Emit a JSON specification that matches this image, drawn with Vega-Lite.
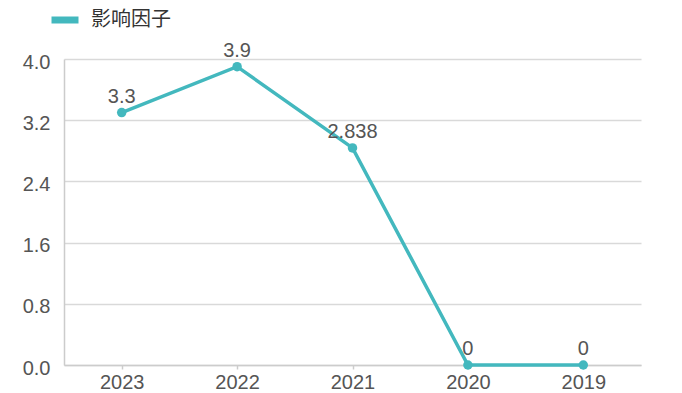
{
  "$schema": "https://vega.github.io/schema/vega-lite/v6.json",
  "width": 577,
  "height": 306,
  "autosize": {"type": "none"},
  "padding": {"left": 64, "top": 59, "right": 41, "bottom": 28},
  "background": "white",
  "config": {
    "view": {"stroke": null},
    "font": "Liberation Sans"
  },
  "data": {
    "values": [
      {"year": "2023", "value": 3.3, "label": "3.3", "series": "影响因子"},
      {"year": "2022", "value": 3.9, "label": "3.9", "series": "影响因子"},
      {"year": "2021", "value": 2.838, "label": "2.838", "series": "影响因子"},
      {"year": "2020", "value": 0, "label": "0", "series": "影响因子"},
      {"year": "2019", "value": 0, "label": "0", "series": "影响因子"}
    ]
  },
  "encoding": {
    "x": {
      "field": "year", "type": "ordinal", "sort": null, "title": null,
      "scale": {"paddingInner": 0, "paddingOuter": 0},
      "axis": {"labelAngle": 0, "ticks": true, "tickSize": 4, "tickColor": "#ccc", "tickWidth": 1.5, "labelFontSize": 20, "labelColor": "#555", "labelPadding": 3, "domainColor": "#ccc", "domainWidth": 1.5}
    },
    "y": {
      "field": "value", "type": "quantitative", "title": null,
      "scale": {"domain": [0, 4], "nice": false},
      "axis": {"values": [0, 0.8, 1.6, 2.4, 3.2, 4.0], "format": ".1f", "ticks": false, "labelFontSize": 20, "labelColor": "#555", "labelPadding": 14, "labelBaseline": "middle", "labelOffset": 3, "gridColor": "#d9d9d9", "gridWidth": 1.5, "domain": true, "domainColor": "#ccc", "domainWidth": 1.5}
    }
  },
  "layer": [
    {
      "mark": {"type": "line", "strokeWidth": 3.5},
      "encoding": {
        "color": {
          "field": "series", "type": "nominal",
          "scale": {"range": ["#43b8be"]},
          "legend": {
            "title": null, "orient": "none", "legendX": -16, "legendY": -56,
            "symbolType": "stroke", "symbolStrokeWidth": 7, "symbolSize": 729,
            "labelFontSize": 20, "labelColor": "#333", "labelFont": "Noto Sans CJK SC", "labelOffset": 9
          }
        }
      }
    },
    {
      "mark": {"type": "point", "filled": true, "size": 90, "color": "#43b8be", "opacity": 1}
    },
    {
      "mark": {"type": "text", "fontSize": 20, "color": "#555", "baseline": "middle", "dy": -16},
      "encoding": {"text": {"field": "label"}}
    }
  ]
}
